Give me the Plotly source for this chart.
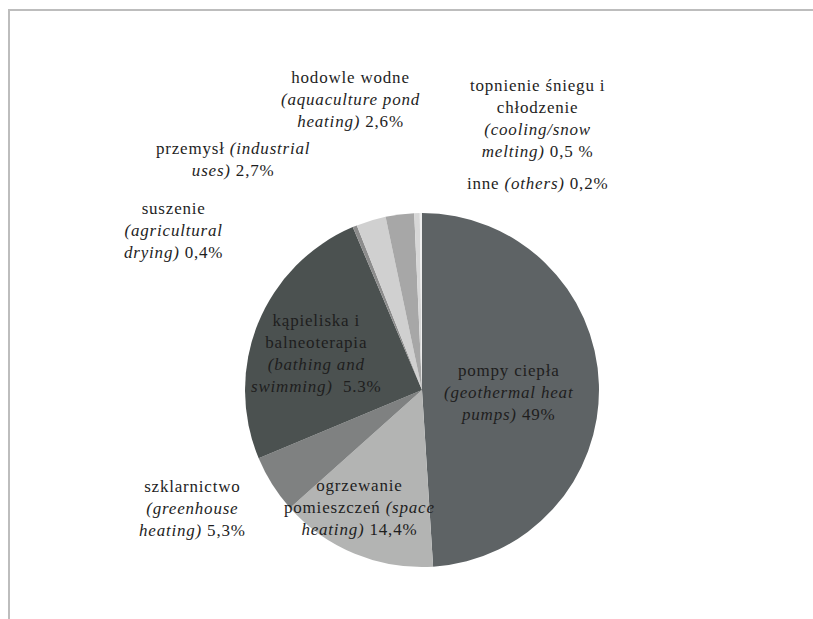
import plotly.graph_objects as go

# Direct use of geothermal energy by application (share of total)
categories = [
    "pompy ciepła",
    "ogrzewanie pomieszczeń",
    "szklarnictwo",
    "kąpieliska i balneoterapia",
    "suszenie",
    "przemysł",
    "hodowle wodne",
    "topnienie śniegu i chłodzenie",
    "inne",
]
shares = [49.0, 14.4, 5.3, 24.9, 0.4, 2.7, 2.6, 0.5, 0.2]

slice_labels = [
    "pompy ciepła<br><i>(geothermal heat</i><br><i>pumps)</i> 49%",
    "ogrzewanie<br>pomieszczeń <i>(space</i><br><i>heating)</i> 14,4%",
    "szklarnictwo<br><i>(greenhouse</i><br><i>heating)</i> 5,3%",
    "kąpieliska i<br>balneoterapia<br><i>(bathing and</i><br><i>swimming)</i>  5.3%",
    "suszenie<br><i>(agricultural</i><br><i>drying)</i> 0,4%",
    "przemysł <i>(industrial</i><br><i>uses)</i> 2,7%",
    "hodowle wodne<br><i>(aquaculture pond</i><br><i>heating)</i> 2,6%",
    "topnienie śniegu i<br>chłodzenie<br><i>(cooling/snow</i><br><i>melting)</i> 0,5 %",
    "inne <i>(others)</i> 0,2%",
]

# Styling
W, H = 813, 619
ML, MT = 10, 11          # frame offset from the page edge
FONT = "Liberation Serif"
slice_colors = ["#5e6365", "#b3b4b3", "#7f8181", "#4b5150", "#8c8c8c",
                "#d0d0d0", "#a7a7a7", "#d7d7d7", "#efefef"]
# label centres in page pixels (x, y from top)
label_pos = [(509, 392), (359, 507), (192, 508), (316, 353), (173, 230),
             (233, 160), (350, 100), (537, 118), (537, 183)]

cx, cy, r = 422, 390, 177


def px_x(v):
    return (v - ML) / (W - ML)


def px_y(v):
    return 1 - (v - MT) / (H - MT)


fig = go.Figure()

# empty cartesian layer: its top/left axis lines form the chart frame
fig.add_trace(go.Scatter(x=[], y=[], showlegend=False, hoverinfo="skip"))

fig.add_trace(
    go.Pie(
        labels=categories,
        values=shares,
        sort=False,
        direction="clockwise",
        rotation=0,
        marker=dict(colors=slice_colors),
        textinfo="none",
        showlegend=False,
        domain=dict(x=[px_x(cx - r), px_x(cx + r)], y=[px_y(cy + r), px_y(cy - r)]),
    )
)

for text, (x, y) in zip(slice_labels, label_pos):
    fig.add_annotation(
        x=px_x(x), y=px_y(y), xref="paper", yref="paper",
        text='<span style="letter-spacing:0.8px">' + text + "</span>",
        showarrow=False, align="center",
        xanchor="center", yanchor="middle",
        font=dict(family=FONT, size=17, color="#1e1e1e"),
    )

frame_axis = dict(range=[0, 1], showline=True, linecolor="#bdbdbd", linewidth=2,
                  showgrid=False, zeroline=False, showticklabels=False,
                  ticks="", fixedrange=True)
fig.update_xaxes(side="top", **frame_axis)
fig.update_yaxes(side="left", **frame_axis)

fig.update_layout(width=W, height=H, margin=dict(l=ML, r=0, t=MT, b=0),
                  plot_bgcolor="#ffffff", paper_bgcolor="#ffffff")

fig.write_html("out.html")
